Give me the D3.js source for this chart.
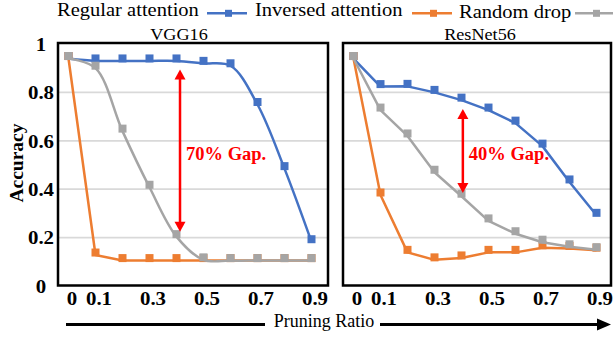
<!DOCTYPE html>
<html>
<head>
<meta charset="utf-8">
<script src="https://cdn.jsdelivr.net/npm/d3@7"></script>
<style>
  body { margin: 0; background: #fff; }
  svg { display: block; }
  text { font-family: "Liberation Serif", "Times New Roman", serif; }
</style>
</head>
<body>
<div id="vis"></div>
<script>
// Data
const X_VALUES = [0, 0.1, 0.2, 0.3, 0.4, 0.5, 0.6, 0.7, 0.8, 0.9];
const X_TICKS = [0, 0.1, 0.3, 0.5, 0.7, 0.9];
const Y_TICKS = [0, 0.2, 0.4, 0.6, 0.8, 1];
const Y_TICK_LABELS = ["0", "0.2", "0.4", "0.6", "0.8", "1"];
const GRID_VALUES = [0.2, 0.4, 0.6, 0.8];

const SERIES_NAMES = ["Regular attention", "Inversed attention", "Random drop"];
const SERIES_COLORS = ["#4472C4", "#ED7D31", "#A5A5A5"];
const PANEL_TITLES = ["VGG16", "ResNet56"];

const VGG_REGULAR = [0.94, 0.93, 0.93, 0.93, 0.93, 0.92, 0.91, 0.75, 0.485, 0.183];
const VGG_INVERSED = [0.94, 0.128, 0.105, 0.105, 0.105, 0.105, 0.105, 0.105, 0.105, 0.105];
const VGG_RANDOM = [0.94, 0.90, 0.64, 0.408, 0.204, 0.108, 0.105, 0.105, 0.105, 0.105];

const RES_REGULAR = [0.94, 0.824, 0.825, 0.80, 0.768, 0.727, 0.673, 0.578, 0.43, 0.292];
const RES_INVERSED = [0.94, 0.376, 0.139, 0.108, 0.116, 0.139, 0.139, 0.158, 0.155, 0.148];
const RES_RANDOM = [0.94, 0.727, 0.62, 0.47, 0.371, 0.269, 0.216, 0.181, 0.162, 0.15];

// gap annotations: x position, top and bottom of the arrow, label
const GAP_X = [0.413, 0.405];
const GAP_TOP = [0.895, 0.731];
const GAP_BOTTOM = [0.224, 0.384];
const GAP_LABELS = ["70% Gap.", "40% Gap."];

// Constants
const FRAME_WIDTH = 613;
const FRAME_HEIGHT = 339;
const SX = 1.1; // horizontal stretch of the picture's text
const SMOOTH = d3.curveCatmullRom.alpha(0.5);
const STRAIGHT = d3.curveLinear;
const PANELS = [
    { left: 58, right: 328, titleX: 179, data: [VGG_REGULAR, VGG_INVERSED, VGG_RANDOM],
      curves: [SMOOTH, STRAIGHT, SMOOTH] },
    { left: 343, right: 611, titleX: 480, data: [RES_REGULAR, RES_INVERSED, RES_RANDOM],
      curves: [STRAIGHT, STRAIGHT, STRAIGHT] }
];
const BOX_TOP = 43;
const BOX_BOTTOM = 285.5;

const FRAME = d3.select("#vis")
    .append("svg")
    .attr("width", FRAME_WIDTH)
    .attr("height", FRAME_HEIGHT);

FRAME.append("rect")
    .attr("width", FRAME_WIDTH)
    .attr("height", FRAME_HEIGHT)
    .attr("fill", "#fff");

const Y_SCALE = d3.scaleLinear().domain([0, 1]).range([286, 44]);

// y tick labels, only on the left
const yAxis = FRAME.append("g")
    .attr("transform", "translate(41,0)")
    .call(d3.axisLeft(Y_SCALE)
        .tickValues(Y_TICKS)
        .tickFormat((d, i) => Y_TICK_LABELS[i])
        .tickSize(0)
        .tickPadding(0));
yAxis.select(".domain").remove();
yAxis.selectAll("text")
    .attr("x", 0)
    .attr("dy", "0.33em")
    .attr("text-anchor", "middle")
    .attr("transform", "scale(" + SX + ",1)")
    .attr("font-weight", "bold")
    .attr("font-size", "19px")
    .attr("fill", "#000");

// y axis title
FRAME.append("text")
    .attr("transform", "translate(23,163) rotate(-90)")
    .attr("text-anchor", "middle")
    .attr("font-weight", "bold")
    .attr("font-size", "19.5px")
    .text("Accuracy");

PANELS.forEach((p, pi) => {
    const X_SCALE = d3.scaleLinear()
        .domain([0, 0.9])
        .range([p.left + 10.5, p.left + 253.5]);

    // grid lines
    FRAME.append("g").selectAll("line")
        .data(GRID_VALUES)
        .enter()
        .append("line")
        .attr("x1", p.left)
        .attr("x2", p.right)
        .attr("y1", (d) => Y_SCALE(d))
        .attr("y2", (d) => Y_SCALE(d))
        .attr("stroke", "#d9d9d9")
        .attr("stroke-width", 1.8);

    // panel frame
    FRAME.append("rect")
        .attr("x", p.left)
        .attr("y", BOX_TOP)
        .attr("width", p.right - p.left)
        .attr("height", BOX_BOTTOM - BOX_TOP)
        .attr("fill", "none")
        .attr("stroke", "#000")
        .attr("stroke-width", 2.5);

    // title
    FRAME.append("text")
        .attr("transform", "translate(" + p.titleX + ",40) scale(1.07,1)")
        .attr("text-anchor", "middle")
        .attr("font-size", "17px")
        .text(PANEL_TITLES[pi]);

    // x tick labels
    const xAxis = FRAME.append("g")
        .attr("transform", "translate(3,305)")
        .call(d3.axisBottom(X_SCALE)
            .tickValues(X_TICKS)
            .tickFormat((d) => d === 0 ? "0" : d3.format(".1f")(d))
            .tickSize(0)
            .tickPadding(0));
    xAxis.select(".domain").remove();
    xAxis.selectAll("text")
        .attr("y", 0)
        .attr("dy", null)
        .attr("transform", "scale(" + SX + ",1)")
        .attr("font-weight", "bold")
        .attr("font-size", "19px")
        .attr("fill", "#000");

    // series: line then markers
    p.data.forEach((vals, si) => {
        const pts = vals.map((v, i) => [X_SCALE(X_VALUES[i]), Y_SCALE(v)]);
        const line = d3.line().curve(p.curves[si]);
        FRAME.append("path")
            .attr("d", line(pts))
            .attr("fill", "none")
            .attr("stroke", SERIES_COLORS[si])
            .attr("stroke-width", 2.5)
            .attr("stroke-linejoin", "round");
        FRAME.append("g").selectAll("rect")
            .data(pts)
            .enter()
            .append("rect")
            .attr("x", (d) => d[0] - 4)
            .attr("y", (d) => d[1] - 6.5)
            .attr("width", 8)
            .attr("height", 8)
            .attr("fill", SERIES_COLORS[si]);
    });

    // gap annotation
    const gx = X_SCALE(GAP_X[pi]);
    const gt = Y_SCALE(GAP_TOP[pi]);
    const gb = Y_SCALE(GAP_BOTTOM[pi]);
    FRAME.append("line")
        .attr("x1", gx).attr("x2", gx)
        .attr("y1", gt + 8).attr("y2", gb - 8)
        .attr("stroke", "#ff0000")
        .attr("stroke-width", 2.5);
    FRAME.append("path")
        .attr("d", "M" + gx + "," + gt + "L" + (gx - 5.5) + "," + (gt + 10) + "L" + (gx + 5.5) + "," + (gt + 10) + "Z")
        .attr("fill", "#ff0000");
    FRAME.append("path")
        .attr("d", "M" + gx + "," + gb + "L" + (gx - 5.5) + "," + (gb - 10) + "L" + (gx + 5.5) + "," + (gb - 10) + "Z")
        .attr("fill", "#ff0000");
    FRAME.append("text")
        .attr("x", gx + 6)
        .attr("y", 160)
        .attr("font-weight", "bold")
        .attr("font-size", "18.5px")
        .attr("fill", "#ff0000")
        .text(GAP_LABELS[pi]);
});

// legend: text followed by its line symbol
const LEGEND_TEXT_X = [57, 255, 459];
const LEGEND_TEXT_Y = [16, 16, 18.3];
const LEGEND_SYM_X = [207, 412, 575];
SERIES_NAMES.forEach((name, i) => {
    FRAME.append("text")
        .attr("transform", "translate(" + LEGEND_TEXT_X[i] + "," + LEGEND_TEXT_Y[i] + ") scale(1.14,1)")
        .attr("font-size", "18px")
        .text(name);
    FRAME.append("line")
        .attr("x1", LEGEND_SYM_X[i])
        .attr("x2", LEGEND_SYM_X[i] + 40)
        .attr("y1", 13.3)
        .attr("y2", 13.3)
        .attr("stroke", SERIES_COLORS[i])
        .attr("stroke-width", 2.5);
    FRAME.append("rect")
        .attr("x", LEGEND_SYM_X[i] + 18)
        .attr("y", 9.8)
        .attr("width", 7)
        .attr("height", 7)
        .attr("fill", SERIES_COLORS[i]);
});

// pruning ratio arrow along the bottom
FRAME.append("line")
    .attr("x1", 66).attr("x2", 265)
    .attr("y1", 324.5).attr("y2", 324.5)
    .attr("stroke", "#000").attr("stroke-width", 3);
FRAME.append("line")
    .attr("x1", 380).attr("x2", 600)
    .attr("y1", 324.5).attr("y2", 324.5)
    .attr("stroke", "#000").attr("stroke-width", 3);
FRAME.append("path")
    .attr("d", "M611,324.5L597,318.5L597,330.5Z")
    .attr("fill", "#000");
FRAME.append("text")
    .attr("x", 324)
    .attr("y", 327)
    .attr("text-anchor", "middle")
    .attr("font-size", "18px")
    .text("Pruning Ratio");
</script>
</body>
</html>
